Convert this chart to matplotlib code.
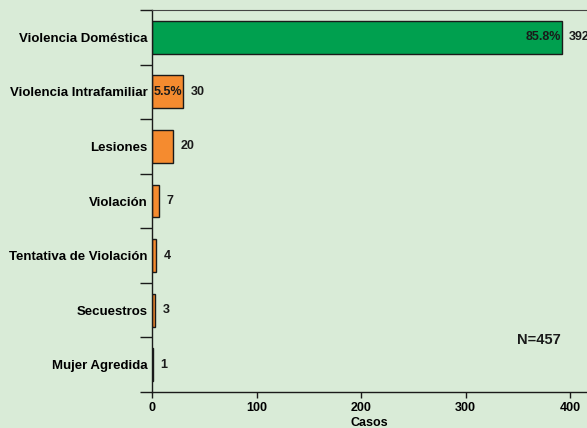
import matplotlib.pyplot as plt
import numpy as np

plt.rcParams['font.family'] = ['Liberation Sans', 'DejaVu Sans']
plt.rcParams['font.weight'] = 'bold'

# data (top to bottom)
categorias = ['Violencia Doméstica', 'Violencia Intrafamiliar', 'Lesiones', 'Violación',
              'Tentativa de Violación', 'Secuestros', 'Mujer Agredida']
casos = [392, 30, 20, 7, 4, 3, 1]
porcentajes = ['85.8%', '5.5%', '', '', '', '', '']
total = 457

bg = '#d9ebd7'
txt = '#1a1a1a'
fig = plt.figure(figsize=(5.87, 4.28), dpi=100, facecolor=bg)
ax = fig.add_axes([152 / 587, 1 - 392 / 428, 1 - 152 / 587, (392 - 10) / 428])
ax.set_facecolor(bg)

y = np.arange(len(categorias))[::-1]
colores = ['#00a04f'] + ['#f58b2f'] * (len(categorias) - 1)
ax.barh(y, casos, height=0.6, color=colores, edgecolor=txt, linewidth=1.0)

for yi, v, p in zip(y, casos, porcentajes):
    ax.text(v + 7, yi, str(v), va='center', ha='left', fontsize=9, fontweight='bold', color=txt)
    if p:
        ax.text(v - 1, yi, p, va='center', ha='right', fontsize=9, fontweight='bold', color=txt)

ax.text(0.89, 0.135, 'N=%d' % total, transform=ax.transAxes, ha='center', va='center',
        fontsize=10.5, fontweight='bold', color=txt)

ax.set_xlim(0, 416)
ax.set_ylim(-0.5, len(categorias) - 0.5)
ax.set_xticks([0, 100, 200, 300, 400])
ax.set_xticklabels(['0', '100', '200', '300', '400'], fontsize=9, fontweight='bold')
ax.set_yticks(y)
ax.set_yticklabels(categorias, fontsize=9.5, fontweight='bold')
ax.set_yticks(np.arange(-0.5, len(categorias), 1.0), minor=True)
ax.tick_params(axis='y', which='major', length=0, pad=3)
ax.tick_params(axis='y', which='minor', length=9, width=1.0, color=txt)
ax.tick_params(axis='x', length=4, width=1.0, color=txt, pad=3)
ax.set_xlabel('Casos', fontsize=9, fontweight='bold', labelpad=2)

for s in ['left', 'bottom']:
    ax.spines[s].set_color(txt)
    ax.spines[s].set_linewidth(1.0)
ax.spines['top'].set_color('#444444')
ax.spines['right'].set_visible(False)

fig.savefig('out.png', dpi=100, facecolor=bg)
